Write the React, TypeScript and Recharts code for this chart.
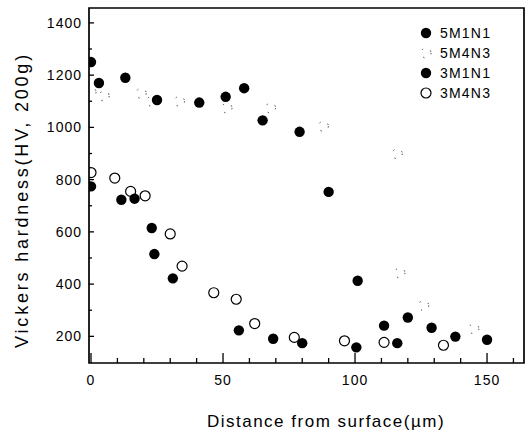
import React from 'react'
import { ScatterChart, Scatter, XAxis, YAxis, ReferenceArea, Legend } from 'recharts'

// distance from surface (µm) / Vickers hardness HV(200g)
const dist5M1N1 = [0, 3, 13, 25, 41, 51, 58, 65, 79, 90, 101, 111, 120, 129, 138, 150]
const hv5M1N1 = [1250, 1170, 1190, 1105, 1095, 1117, 1150, 1027, 983, 753, 413, 241, 272, 233, 199, 187]

const dist5M4N3 = [0, 5, 19, 23, 33.5, 51.5, 68, 88, 116, 117, 126, 145]
const hv5M4N3 = [1135, 1120, 1130, 1100, 1100, 1074, 1074, 1004, 899, 443, 318, 229]

const dist3M1N1 = [0, 11.5, 16.5, 23, 24, 31, 56, 69, 80, 100.5, 116]
const hv3M1N1 = [774, 723, 727, 615, 515, 422, 223, 191, 174, 158, 174]

const dist3M4N3 = [0, 9, 15, 20.5, 30, 34.5, 46.5, 55, 62, 77, 96, 111, 133.5]
const hv3M4N3 = [827, 806, 755, 738, 592, 469, 367, 342, 249, 196, 183, 177, 166]

const xTicks = [0, 10, 20, 30, 40, 50, 60, 70, 80, 90, 100, 110, 120, 130, 140, 150, 160]
const yTicks = [200, 300, 400, 500, 600, 700, 800, 900, 1000, 1100, 1200, 1300, 1400]

const X_DOMAIN: [number, number] = [-0.76, 164]
const Y_DOMAIN: [number, number] = [98, 1457]

const FONT = '"Liberation Sans", Arial, Helvetica, sans-serif'

const zip = (xs: number[], ys: number[]) => xs.map((x, i) => ({ x, y: ys[i] }))

const FilledDot = (p: any) => <circle cx={p.cx} cy={p.cy} r={5.2} fill="#000" />
const OpenDot = (p: any) => (
  <circle cx={p.cx} cy={p.cy} r={5} fill="none" stroke="#000" strokeWidth={1.2} />
)
// 5M4N3 circles came out almost blank in the print: only small fragments left
const FaintDot = (p: any) => (
  <circle cx={p.cx} cy={p.cy} r={5} fill="none" stroke="#333" strokeWidth={1} strokeDasharray="1.3 8" />
)

const series = [
  { name: '5M1N1', data: zip(dist5M1N1, hv5M1N1), shape: FilledDot },
  { name: '5M4N3', data: zip(dist5M4N3, hv5M4N3), shape: FaintDot },
  { name: '3M1N1', data: zip(dist3M1N1, hv3M1N1), shape: FilledDot },
  { name: '3M4N3', data: zip(dist3M4N3, hv3M4N3), shape: OpenDot },
]

const XTick = (props: any) => {
  const { x, y, payload } = props
  const v = payload.value
  const major = v % 50 === 0
  return (
    <g>
      <line x1={x} x2={x} y1={y} y2={y - (major ? 10 : 5)} stroke="#000" strokeWidth={1.3} />
      {major && v <= 150 && (
        <text x={x} y={y + 22} textAnchor="middle" fontSize={14} letterSpacing={1} fontFamily={FONT} fill="#000">
          {v}
        </text>
      )}
    </g>
  )
}

const YTick = (props: any) => {
  const { x, y, payload } = props
  const v = payload.value
  const major = v % 200 === 0
  return (
    <g>
      <line x1={x} x2={x + (major ? 5 : 3)} y1={y} y2={y} stroke="#000" strokeWidth={1.3} />
      {major && (
        <text x={x - 7} y={y + 5} textAnchor="end" fontSize={14} letterSpacing={1} fontFamily={FONT} fill="#000">
          {v}
        </text>
      )}
    </g>
  )
}

const LegendBox = () => (
  <div style={{ fontFamily: FONT, fontSize: 14, letterSpacing: 1.2, color: '#000' }}>
    {series.map((s) => (
      <div key={s.name} style={{ display: 'flex', alignItems: 'center', height: 20 }}>
        <svg width={18} height={14} style={{ marginRight: 4 }}>
          {s.shape({ cx: 8, cy: 7 })}
        </svg>
        <span>{s.name}</span>
      </div>
    ))}
  </div>
)

export default function App() {
  return (
    <div style={{ position: 'absolute', left: 0, top: 0, width: 531, height: 434, background: '#fff' }}>
      <ScatterChart width={531} height={434} margin={{ top: 8, right: 7, bottom: 41, left: 29 }}>
        <XAxis
          type="number"
          dataKey="x"
          domain={X_DOMAIN}
          allowDataOverflow
          ticks={xTicks}
          interval={0}
          axisLine={false}
          tickLine={false}
          tickSize={0}
          tickMargin={0}
          height={30}
          tick={<XTick />}
          label={{
            content: () => (
              <text x={326} y={427} textAnchor="middle" fontSize={17} letterSpacing={1.5} fontFamily={FONT} fill="#000">
                Distance from surface(µm)
              </text>
            ),
          }}
        />
        <YAxis
          type="number"
          dataKey="y"
          domain={Y_DOMAIN}
          allowDataOverflow
          ticks={yTicks}
          interval={0}
          axisLine={false}
          tickLine={false}
          tickSize={0}
          tickMargin={0}
          width={60}
          tick={<YTick />}
          label={{
            content: () => (
              <text
                x={22}
                y={200}
                transform="rotate(-90, 22, 200)"
                textAnchor="middle"
                dominantBaseline="central"
                fontSize={18}
                letterSpacing={2.8}
                fontFamily={FONT}
                fill="#000"
              >
                Vickers hardness(HV, 200g)
              </text>
            ),
          }}
        />
        <ReferenceArea
          x1={X_DOMAIN[0]}
          x2={X_DOMAIN[1]}
          y1={Y_DOMAIN[0]}
          y2={Y_DOMAIN[1]}
          fill="none"
          stroke="#000"
          strokeWidth={1.7}
          ifOverflow="visible"
        />
        {series.map((s) => (
          <Scatter key={s.name} name={s.name} data={s.data} shape={s.shape} fill="#000" isAnimationActive={false} />
        ))}
        <Legend
          layout="horizontal"
          verticalAlign="middle"
          align="center"
          content={<LegendBox />}
          wrapperStyle={{ top: 23, left: 418, width: 100, height: 84 }}
        />
      </ScatterChart>
    </div>
  )
}
